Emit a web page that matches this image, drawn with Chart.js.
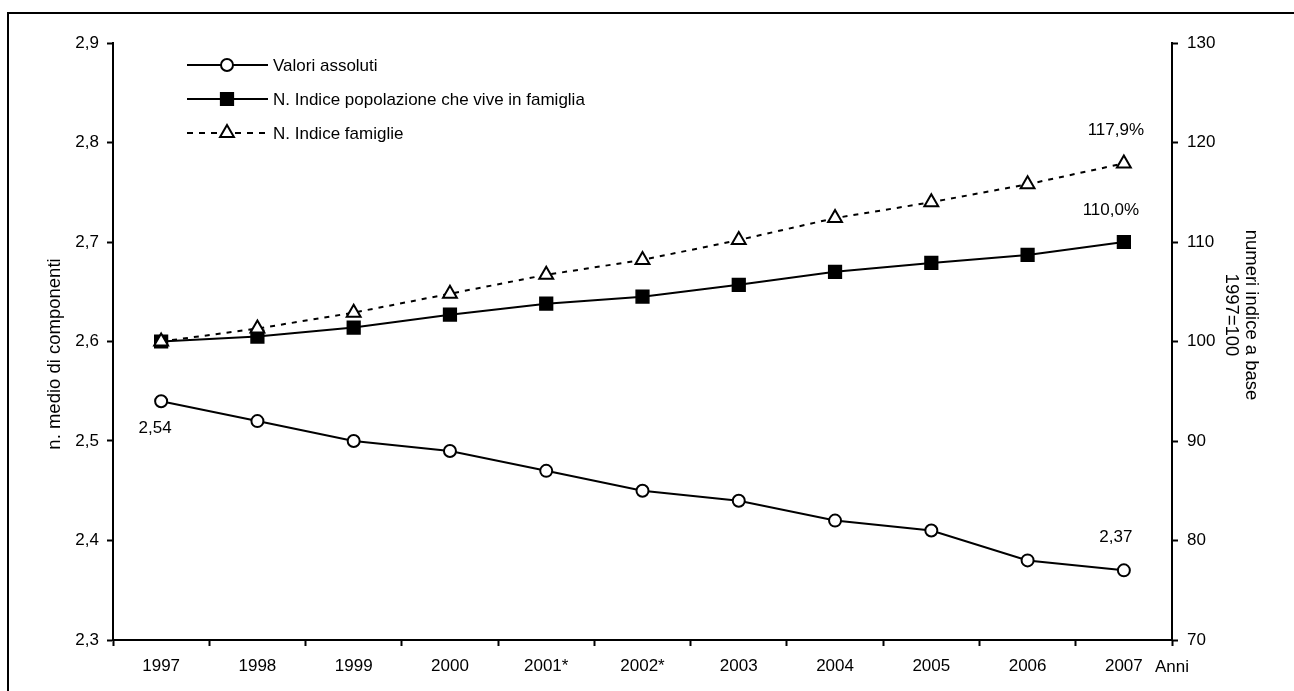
<!DOCTYPE html>
<html>
<head>
<meta charset="utf-8">
<script src="https://cdn.jsdelivr.net/npm/chart.js@4/dist/chart.umd.min.js"></script>
<style>
  body { margin: 0; background: #fff; }
  canvas { display: block; }
</style>
</head>
<body>
<canvas id="famChart" width="1294" height="691"></canvas>
<script>
const anni = ["1997", "1998", "1999", "2000", "2001*", "2002*", "2003", "2004", "2005", "2006", "2007"];
const valoriAssoluti = [2.54, 2.52, 2.50, 2.49, 2.47, 2.45, 2.44, 2.42, 2.41, 2.38, 2.37];
const indicePopolazione = [100, 100.5, 101.4, 102.7, 103.8, 104.5, 105.7, 107.0, 107.9, 108.7, 110.0];
const indiceFamiglie = [100, 101.3, 102.9, 104.8, 106.7, 108.2, 110.2, 112.4, 114.0, 115.8, 117.9];
const leftTicks = [2.3, 2.9, 0.1];   // min, max, step
const rightTicks = [70, 130, 10];
const etichette = [
  // dataset, index, text, dx, dy
  [0, 0, "2,54", -6, 27],
  [0, 10, "2,37", -8, -33],
  [1, 10, "110,0%", -13, -32],
  [2, 10, "117,9%", -8, -33]
];

const FONT = '"Liberation Sans", Arial, sans-serif';
Chart.defaults.font.family = FONT;
Chart.defaults.font.size = 17;
Chart.defaults.color = "#000";

const extras = {
  id: "extras",
  afterDraw(chart) {
    const ctx = chart.ctx;
    ctx.save();
    // outer frame
    ctx.strokeStyle = "#000";
    ctx.lineWidth = 2;
    ctx.strokeRect(8, 13, 1300, 700);

    ctx.fillStyle = "#000";
    ctx.font = "17px " + FONT;
    ctx.textAlign = "center";
    ctx.textBaseline = "middle";

    // point labels
    etichette.forEach(([d, i, txt, dx, dy]) => {
      const p = chart.getDatasetMeta(d).data[i];
      ctx.fillText(txt, p.x + dx, p.y + dy);
    });

    // "Anni"
    ctx.textAlign = "left";
    ctx.fillText("Anni", 1155, 667);

    // axis titles
    ctx.font = "18.5px " + FONT;
    ctx.save();
    ctx.translate(55, 354);
    ctx.rotate(-Math.PI / 2);
    ctx.textAlign = "center";
    ctx.fillText("n. medio di componenti", 0, 0);
    ctx.restore();

    ctx.save();
    ctx.translate(1251, 315);
    ctx.rotate(Math.PI / 2);
    ctx.textAlign = "center";
    ctx.fillText("numeri indice a base", 0, 0);
    ctx.fillText("1997=100", 0, 20);
    ctx.restore();

    // legend
    ctx.font = "17px " + FONT;
    const rows = [
      { ds: chart.data.datasets[0], y: 65 },
      { ds: chart.data.datasets[1], y: 99 },
      { ds: chart.data.datasets[2], y: 133 }
    ];
    rows.forEach(r => {
      ctx.save();
      ctx.strokeStyle = "#000";
      ctx.lineWidth = 2;
      ctx.setLineDash(r.ds.borderDash ? [6, 6] : []);
      ctx.beginPath();
      ctx.moveTo(187, r.y);
      ctx.lineTo(268, r.y);
      ctx.stroke();
      ctx.restore();
      ctx.save();
      ctx.fillStyle = r.ds.pointBackgroundColor;
      ctx.strokeStyle = "#000";
      ctx.lineWidth = r.ds.pointBorderWidth;
      Chart.helpers.drawPoint(ctx, {
        pointStyle: r.ds.pointStyle,
        radius: r.ds.pointRadius,
        borderWidth: r.ds.pointBorderWidth,
        rotation: 0
      }, 227, r.y);
      ctx.restore();
      ctx.fillStyle = "#000";
      ctx.textAlign = "left";
      ctx.fillText(r.ds.label, 273, r.y + 1);
    });
    ctx.restore();
  }
};

const axisGrid = {
  display: true,
  drawOnChartArea: false,
  drawTicks: true,
  tickLength: 6,
  tickWidth: 2,
  color: "#000"
};
const axisBorder = { display: true, color: "#000", width: 2 };
const fmt = v => String(Math.round(v * 10) / 10).replace(".", ",");

new Chart(document.getElementById("famChart"), {
  type: "line",
  data: {
    labels: anni,
    datasets: [
      {
        label: "Valori assoluti",
        data: valoriAssoluti,
        yAxisID: "y",
        borderColor: "#000",
        borderWidth: 2,
        pointStyle: "circle",
        pointRadius: 6,
        pointBorderWidth: 2,
        pointBackgroundColor: "#fff",
        pointBorderColor: "#000",
        tension: 0,
        order: 2
      },
      {
        label: "N. Indice popolazione che vive in famiglia",
        data: indicePopolazione,
        yAxisID: "y2",
        borderColor: "#000",
        borderWidth: 2,
        pointStyle: "rect",
        pointRadius: 9,
        pointBorderWidth: 1.5,
        pointBackgroundColor: "#000",
        pointBorderColor: "#000",
        tension: 0,
        order: 1
      },
      {
        label: "N. Indice famiglie",
        data: indiceFamiglie,
        yAxisID: "y2",
        borderColor: "#000",
        borderWidth: 2,
        borderDash: [5, 6],
        pointStyle: "triangle",
        pointRadius: 8,
        pointBorderWidth: 2,
        pointBackgroundColor: "#fff",
        pointBorderColor: "#000",
        tension: 0,
        order: 0
      }
    ]
  },
  options: {
    responsive: false,
    animation: false,
    layout: { padding: { top: 43, left: 0, right: 0, bottom: 0 } },
    plugins: {
      legend: { display: false },
      tooltip: { enabled: false }
    },
    scales: {
      x: {
        type: "category",
        offset: true,
        grid: { ...axisGrid, offset: true },
        border: axisBorder,
        ticks: { padding: 10, maxRotation: 0, autoSkip: false },
        afterFit: s => { s.height = 51; }
      },
      y: {
        position: "left",
        min: leftTicks[0],
        max: leftTicks[1],
        grid: axisGrid,
        border: axisBorder,
        ticks: { stepSize: leftTicks[2], padding: 8, callback: fmt },
        afterFit: s => { s.width = 113; }
      },
      y2: {
        position: "right",
        min: rightTicks[0],
        max: rightTicks[1],
        grid: axisGrid,
        border: axisBorder,
        ticks: { stepSize: rightTicks[2], padding: 9 },
        afterFit: s => { s.width = 122; }
      }
    }
  },
  plugins: [extras]
});
</script>
</body>
</html>
